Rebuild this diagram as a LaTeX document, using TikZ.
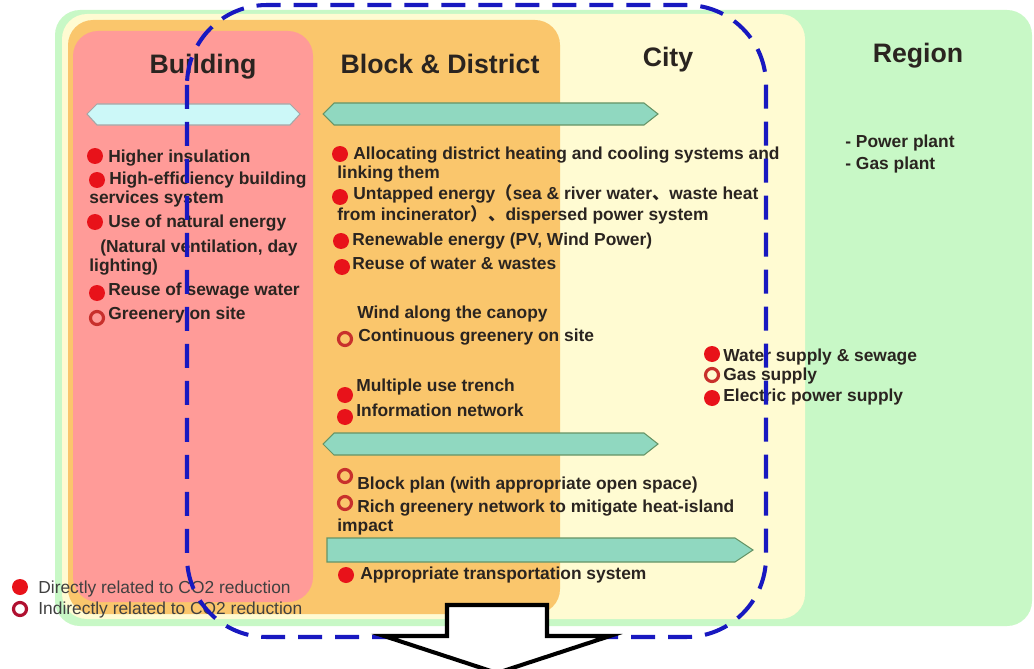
\documentclass[tikz,border=0pt]{standalone}
\usepackage{fontspec}
\setmainfont{Liberation Sans}
\newfontfamily\cjk{Noto Sans CJK SC}
\usetikzlibrary{positioning}

\definecolor{regiongreen}{HTML}{C8F8C6}
\definecolor{cityyellow}{HTML}{FFFBD2}
\definecolor{blockorange}{HTML}{FAC66C}
\definecolor{buildpink}{HTML}{FF9B98}
\definecolor{cyanbar}{HTML}{CCF8F8}
\definecolor{mintbar}{HTML}{90D8C0}
\definecolor{dotred}{HTML}{E8121A}
\definecolor{ringred}{HTML}{C8302C}
\definecolor{ringdark}{HTML}{B01030}
\definecolor{dashblue}{HTML}{1818C0}
\definecolor{inktext}{HTML}{2A2420}

\begin{document}
\begin{tikzpicture}[x=0.02cm, y=-0.02cm,
    panel/.style={rounded corners=0.5cm},
    head/.style={anchor=base, font=\fontsize{15.2}{18}\selectfont\bfseries, text=inktext, inner sep=0},
    item/.style={anchor=base west, align=left, inner sep=0, text=inktext,
                 font=\fontsize{9.9}{10.3}\selectfont\bfseries},
    dot/.style={circle, fill=dotred, inner sep=0, minimum size=0.32cm},
    ring/.style={circle, draw=ringred, line width=1.8pt, inner sep=0, minimum size=0.26cm},
    cyanarrow/.style={draw=black!35, line width=0.6pt, fill=cyanbar},
    mintarrow/.style={draw=green!30!black!60, line width=0.6pt, fill=mintbar},
    note/.style={anchor=base west, inner sep=0, text=black!75,
                 font=\fontsize{9.9}{11}\selectfont}]

  \useasboundingbox (0,0) rectangle (1034,669);
  \fill[white] (0,0) rectangle (1034,669);

  % scale panels
  \fill[regiongreen, panel] (55,10) rectangle (1032,626);
  \fill[cityyellow, panel]  (62,14) rectangle (805,619);
  \fill[blockorange, panel] (68,20) rectangle (560,614);
  \fill[buildpink, panel]   (73,31) rectangle (313,602);

  \node[head] (hbuild)  at (203,74) {Building};
  \node[head] (hblock)  at (440,74) {Block \& District};
  \node[head] (hcity)   at (668,67) {City};
  \node[head] (hregion) at (918,63) {Region};

  % range bars
  \draw[cyanarrow] (87,114) -- (97,104) -- (290,104) -- (300,114) -- (290,125) -- (97,125) -- cycle;
  \draw[mintarrow] (323,114) -- (334,103) -- (644,103) -- (658,114) -- (644,125) -- (334,125) -- cycle;
  \draw[mintarrow] (323,444) -- (334,433) -- (644,433) -- (658,444) -- (644,455) -- (334,455) -- cycle;
  \draw[mintarrow] (327,538) -- (735,538) -- (753,550) -- (735,562) -- (327,562) -- cycle;

  % building
  \node[dot]  (b1) at (95,156) {};
  \node[item] (t1) at (108,162) {Higher insulation};
  \node[dot]  (b2) at (97,180) {};
  \node[item] (t2) at (89,203) {\hspace*{0.4cm}High-efficiency building\\services system};
  \node[dot]  (b3) at (95,222) {};
  \node[item] (t3) at (108,227) {Use of natural energy};
  \node[item] (t4) at (89,271) {\hspace*{0.22cm}(Natural ventilation, day\\lighting)};
  \node[dot]  (b5) at (97,293) {};
  \node[item] (t5) at (108,295) {Reuse of sewage water};
  \node[ring] (b6) at (97,318) {};
  \node[item] (t6) at (108,319) {Greenery on site};

  % block & district
  \node[dot]  (d1) at (340,154) {};
  \node[item] (u1) at (337,178) {\hspace*{0.32cm}Allocating district heating and cooling systems and\\linking them};
  \node[dot]  (d2) at (340,197) {};
  \node[item] (u2) at (337,220) {\hspace*{0.32cm}Untapped energy{\cjk （}sea \& river water{\cjk 、}waste heat\\from incinerator{\cjk ）、}dispersed power system};
  \node[dot]  (d3) at (341,241) {};
  \node[item] (u3) at (352,245) {Renewable energy (PV, Wind Power)};
  \node[dot]  (d4) at (342,267) {};
  \node[item] (u4) at (352,269) {Reuse of water \& wastes};
  \node[item] (u5) at (357,318) {Wind along the canopy};
  \node[ring] (d6) at (345,339) {};
  \node[item] (u6) at (358,341) {Continuous greenery on site};
  \node[dot]  (d7) at (345,395) {};
  \node[item] (u7) at (356,391) {Multiple use trench};
  \node[dot]  (d8) at (345,417) {};
  \node[item] (u8) at (356,416) {Information network};
  \node[ring] (d9) at (345,476) {};
  \node[item] (u9) at (357,489) {Block plan (with appropriate open space)};
  \node[ring] (d10) at (345,503) {};
  \node[item] (u10) at (337,531) {\hspace*{0.4cm}Rich greenery network to mitigate heat-island\\impact};
  \node[dot]  (d11) at (346,575) {};
  \node[item] (u11) at (360,579) {Appropriate transportation system};

  % city
  \node[dot]  (c1) at (712,354) {};
  \node[item] (v1) at (723,361) {Water supply \& sewage};
  \node[ring] (c2) at (712,375) {};
  \node[item] (v2) at (723,380) {Gas supply};
  \node[dot]  (c3) at (712,398) {};
  \node[item] (v3) at (723,401) {Electric power supply};

  % region
  \node[item] (r1) at (845,147) {- Power plant};
  \node[item] (r2) at (845,169) {- Gas plant};

  % legend
  \node[dot]  (l1) at (20,587) {};
  \node[note] (k1) at (38,593) {Directly related to CO2 reduction};
  \node[ring, draw=ringdark] (l2) at (20,609) {};
  \node[note] (k2) at (38,614) {Indirectly related to CO2 reduction};

  % focus boundary
  \draw[dashblue, line width=2.3pt, dash pattern=on 0.48cm off 0.26cm,
        rounded corners=1.6cm] (187,5) rectangle (766,637);

  % big arrow
  \draw[line width=2.3pt, fill=white] (447,605) -- (547,605) -- (547,636) -- (610,636)
        -- (497,673) -- (384,636) -- (447,636) -- cycle;
\end{tikzpicture}
\end{document}
